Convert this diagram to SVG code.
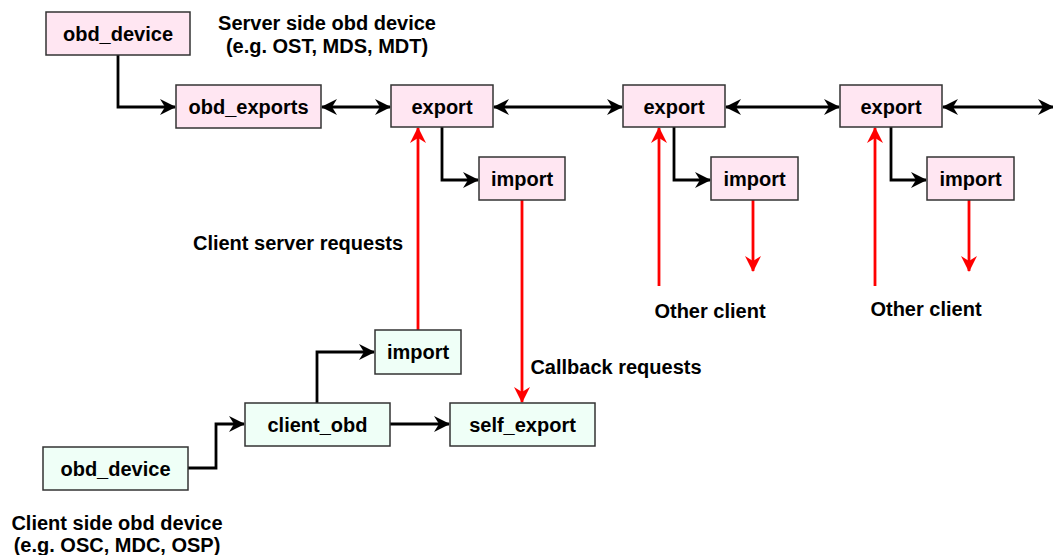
<svg xmlns="http://www.w3.org/2000/svg" width="1053" height="555" viewBox="0 0 1053 555">
  <style>
    text { font-family: "Liberation Sans", Arial, sans-serif; font-weight: bold; font-size: 20px; fill: #000; }
    .lbl { text-anchor: middle; }
    .srv { fill: #ffe6f2; stroke: #333; stroke-width: 1.5; }
    .cli { fill: #effff7; stroke: #333; stroke-width: 1.5; }
    .blk { fill: none; stroke: #000; stroke-width: 2.8; }
    .red { fill: none; stroke: #ff0000; stroke-width: 2.8; }
  </style>
  <defs>
    <marker id="arrowBlack" viewBox="0 0 16 16" refX="15" refY="8" markerWidth="16" markerHeight="16" markerUnits="userSpaceOnUse" orient="auto-start-reverse">
      <path d="M0,0 L16,8 L0,16 L5,8 Z" fill="#000"/>
    </marker>
    <marker id="arrowRed" viewBox="0 0 16 16" refX="15" refY="8" markerWidth="16" markerHeight="16" markerUnits="userSpaceOnUse" orient="auto-start-reverse">
      <path d="M0,0 L16,8 L0,16 L5,8 Z" fill="#ff0000"/>
    </marker>
  </defs>

  <!-- connectors -->
  <g id="connectors">
    <path class="blk" d="M118,55 V107 H175" marker-end="url(#arrowBlack)"/>
    <path class="blk" d="M322,107 H390" marker-start="url(#arrowBlack)" marker-end="url(#arrowBlack)"/>
    <path class="blk" d="M494,107 H622" marker-start="url(#arrowBlack)" marker-end="url(#arrowBlack)"/>
    <path class="blk" d="M726,107 H839" marker-start="url(#arrowBlack)" marker-end="url(#arrowBlack)"/>
    <path class="blk" d="M943,107 H1053" marker-start="url(#arrowBlack)" marker-end="url(#arrowBlack)"/>
    <path class="blk" d="M442,127 V180 H478" marker-end="url(#arrowBlack)"/>
    <path class="blk" d="M674,127 V180 H710" marker-end="url(#arrowBlack)"/>
    <path class="blk" d="M891,127 V180 H926" marker-end="url(#arrowBlack)"/>
    <path class="blk" d="M188,468 H216 V424 H244" marker-end="url(#arrowBlack)"/>
    <path class="blk" d="M317,403 V352 H374" marker-end="url(#arrowBlack)"/>
    <path class="blk" d="M390,424 H449" marker-end="url(#arrowBlack)"/>
    <path class="red" d="M418,330 V128" marker-end="url(#arrowRed)"/>
    <path class="red" d="M522,200 V402" marker-end="url(#arrowRed)"/>
    <path class="red" d="M659,286 V128" marker-end="url(#arrowRed)"/>
    <path class="red" d="M753,200 V271" marker-end="url(#arrowRed)"/>
    <path class="red" d="M875,286 V128" marker-end="url(#arrowRed)"/>
    <path class="red" d="M969,200 V271" marker-end="url(#arrowRed)"/>
  </g>

  <!-- server side -->
  <g id="srv-obd-device">
    <rect class="srv" x="46" y="12" width="144" height="43"/>
    <text class="lbl" x="118" y="41">obd_device</text>
  </g>
  <g id="srv-obd-exports">
    <rect class="srv" x="176" y="85" width="145" height="43"/>
    <text class="lbl" x="248.5" y="114">obd_exports</text>
  </g>
  <g id="export-1">
    <rect class="srv" x="391" y="85" width="102" height="42"/>
    <text class="lbl" x="442" y="114">export</text>
  </g>
  <g id="export-2">
    <rect class="srv" x="623" y="85" width="102" height="42"/>
    <text class="lbl" x="674" y="114">export</text>
  </g>
  <g id="export-3">
    <rect class="srv" x="840" y="85" width="102" height="42"/>
    <text class="lbl" x="891" y="114">export</text>
  </g>
  <g id="import-1">
    <rect class="srv" x="479" y="157" width="86" height="43"/>
    <text class="lbl" x="522" y="186">import</text>
  </g>
  <g id="import-2">
    <rect class="srv" x="711" y="157" width="87" height="43"/>
    <text class="lbl" x="754.5" y="186">import</text>
  </g>
  <g id="import-3">
    <rect class="srv" x="927" y="157" width="87" height="43"/>
    <text class="lbl" x="970.5" y="186">import</text>
  </g>

  <!-- client side -->
  <g id="cli-obd-device">
    <rect class="cli" x="43" y="447" width="145" height="43"/>
    <text class="lbl" x="115.5" y="476">obd_device</text>
  </g>
  <g id="client-obd">
    <rect class="cli" x="245" y="403" width="145" height="43"/>
    <text class="lbl" x="317.5" y="432">client_obd</text>
  </g>
  <g id="self-export">
    <rect class="cli" x="450" y="403" width="145" height="43"/>
    <text class="lbl" x="522.5" y="432">self_export</text>
  </g>
  <g id="cli-import">
    <rect class="cli" x="375" y="330" width="86" height="44"/>
    <text class="lbl" x="418" y="359">import</text>
  </g>

  <!-- captions -->
  <g id="captions">
    <text class="lbl" x="327" y="30">Server side obd device</text>
    <text class="lbl" x="327" y="53">(e.g. OST, MDS, MDT)</text>
    <text class="lbl" x="117" y="530">Client side obd device</text>
    <text class="lbl" x="117" y="552">(e.g. OSC, MDC, OSP)</text>
    <text class="lbl" x="298" y="250">Client server requests</text>
    <text class="lbl" x="616" y="374">Callback requests</text>
    <text class="lbl" x="710" y="318">Other client</text>
    <text class="lbl" x="926" y="316">Other client</text>
  </g>
</svg>
